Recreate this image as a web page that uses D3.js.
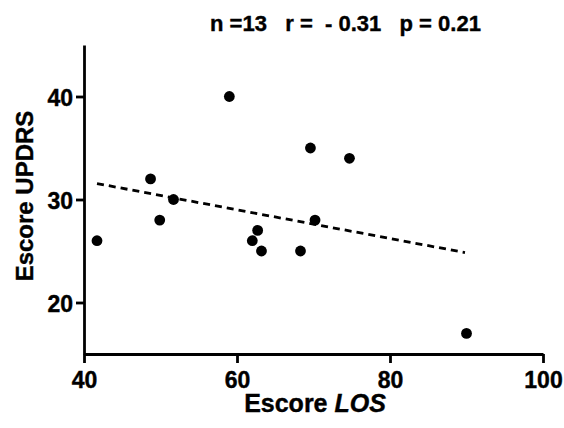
<!DOCTYPE html>
<html><head><meta charset="utf-8">
<script src="https://cdn.jsdelivr.net/npm/d3@7"></script>
<style>
html,body{margin:0;padding:0;background:#fff;}
svg text{font-family:"Liberation Sans",Arial,sans-serif;font-weight:bold;fill:#000;}
</style></head>
<body>
<svg id="chart" width="564" height="428"></svg>
<script>
// Data
const losScores    = [41.7, 48.7, 49.9, 51.7, 59.0, 62.0, 62.7, 63.2, 68.3, 69.6, 70.2, 74.7, 90.0];
const updrsScores  = [26, 32, 28, 30, 40, 26, 27, 25, 25, 35, 28, 34, 17];
const fitX = [41.7, 89.8];
const fitY = [31.55, 24.85];
const xTicks = [40, 60, 80, 100];
const yTicks = [20, 30, 40];
const titleText = "n =13   r =  - 0.31   p = 0.21";
const xLabel = "Escore ";
const xLabelItalic = "LOS";
const yLabel = "Escore UPDRS";

const svg = d3.select("#chart");
const x = d3.scaleLinear().domain([40, 100]).range([84, 543]);
const y = d3.scaleLinear().domain([15, 45]).range([354, 45]);

// Axes
const xAxis = svg.append("g").attr("transform", "translate(0,354)")
  .call(d3.axisBottom(x).tickValues(xTicks).tickSize(9).tickSizeOuter(0).tickPadding(4));
const yAxis = svg.append("g").attr("transform", "translate(84,0)")
  .call(d3.axisLeft(y).tickValues(yTicks).tickSize(8).tickSizeOuter(0).tickPadding(4));
[xAxis, yAxis].forEach(g => {
  g.selectAll("path.domain").attr("stroke", "#000").attr("stroke-width", 2.8);
  g.selectAll(".tick line").attr("stroke", "#000").attr("stroke-width", 2.8);
  g.selectAll(".tick text").attr("font-size", 23).attr("font-family", null).attr("fill", "#000")
    .attr("stroke", "#000").attr("stroke-width", 0.4);
});
xAxis.selectAll(".tick text").attr("dy", null).attr("y", 34);
yAxis.selectAll(".tick text").attr("dy", null).attr("y", 8.5).attr("x", -11);
yAxis.select("path.domain").attr("stroke-linecap", "butt");

// Regression line
svg.append("line")
  .attr("x1", x(fitX[0])).attr("y1", y(fitY[0]))
  .attr("x2", x(fitX[1])).attr("y2", y(fitY[1]))
  .attr("stroke", "#000").attr("stroke-width", 2.8)
  .attr("stroke-dasharray", "7,5");

// Points
svg.append("g").selectAll("circle")
  .data(losScores.map((v, i) => [v, updrsScores[i]]))
  .join("circle")
  .attr("cx", d => x(d[0])).attr("cy", d => y(d[1]))
  .attr("r", 5.4).attr("fill", "#000");

// Title
svg.append("text").attr("x", 210).attr("y", 31)
  .attr("font-size", 22).attr("stroke", "#000").attr("stroke-width", 0.4)
  .attr("xml:space", "preserve").style("white-space", "pre")
  .text(titleText);

// X label
const xl = svg.append("text").attr("x", 315).attr("y", 412)
  .attr("text-anchor", "middle").attr("font-size", 25)
  .attr("stroke", "#000").attr("stroke-width", 0.4);
xl.append("tspan").style("white-space", "pre").text(xLabel);
xl.append("tspan").attr("font-style", "italic").text(xLabelItalic);

// Y label
svg.append("text").attr("transform", "translate(33,196) rotate(-90)")
  .attr("text-anchor", "middle").attr("font-size", 24)
  .attr("stroke", "#000").attr("stroke-width", 0.4)
  .text(yLabel);
</script>
</body></html>
